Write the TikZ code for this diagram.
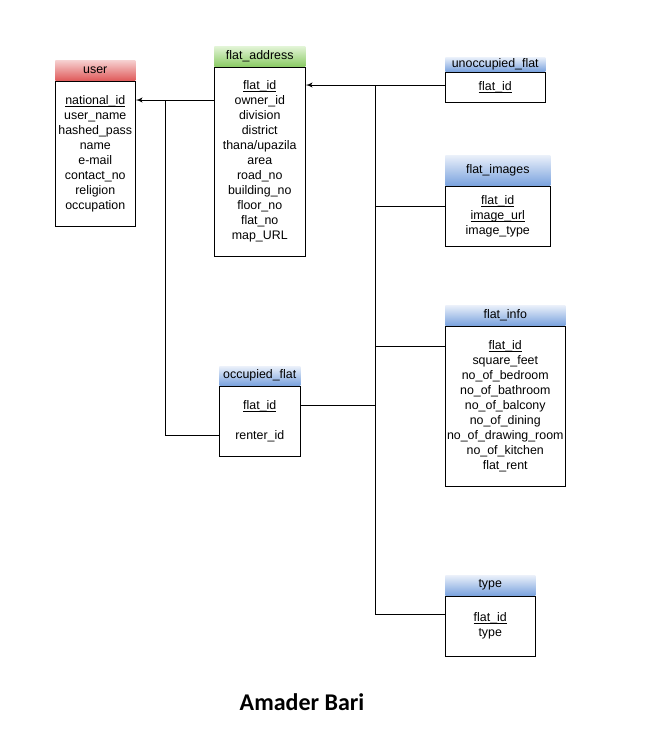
\documentclass[tikz,border=0pt]{standalone}
\usepackage{fontspec}
\setmainfont{Liberation Sans}
\newfontfamily\titlefont{Carlito}
\usetikzlibrary{arrows, positioning}
\definecolor{redtop}{HTML}{F6D0D0}
\definecolor{redbot}{HTML}{E05C5C}
\definecolor{greentop}{HTML}{E2F4D6}
\definecolor{greenbot}{HTML}{8CCB66}
\definecolor{bluetop}{HTML}{EAF0FA}
\definecolor{bluebot}{HTML}{7BA3DE}
\newcommand\pkey[1]{\leavevmode\setbox0\hbox{#1}\rlap{\vrule height -1pt depth 1.6pt width \wd0}\box0}

\begin{document}
\begin{tikzpicture}[x=0.75pt, y=-0.75pt,
        head/.style={rectangle, inner sep=0pt, anchor=north west, font=\fontsize{9.3}{11.25}\selectfont},
        redhead/.style={head, top color=redtop, bottom color=redbot},
        greenhead/.style={head, top color=greentop, bottom color=greenbot},
        bluehead/.style={head, top color=bluetop, bottom color=bluebot},
        body/.style={rectangle, draw, line width=0.75pt, fill=white, inner sep=0pt, align=center, font=\fontsize{9.3}{11.25}\selectfont},
        link/.style={draw, line width=0.75pt}]

        \useasboundingbox (0,0) rectangle (668,744);

        \node [redhead, minimum width=60pt, minimum height=15pt] (uhead) at (55,60) {user};
        \node [body, below=0pt of uhead, minimum width=60pt, minimum height=108.75pt] (ubody) {\pkey{national\_id}\\user\_name\\hashed\_pass\\name\\e-mail\\contact\_no\\religion\\occupation};

        \node [greenhead, minimum width=68.25pt, minimum height=15pt] (fahead) at (214,46) {flat\_address};
        \node [body, below=0pt of fahead, minimum width=68.25pt, minimum height=141.75pt] (fabody) {\pkey{flat\_id}\\owner\_id\\division\\district\\thana/upazila\\area\\road\_no\\building\_no\\floor\_no\\flat\_no\\map\_URL};

        \node [bluehead, minimum width=75pt, minimum height=10.5pt] (uohead) at (445,57) {unoccupied\_flat};
        \node [body, below=0pt of uohead, minimum width=75pt, minimum height=22.5pt] (uobody) {\pkey{flat\_id}};

        \node [bluehead, minimum width=78.75pt, minimum height=22.5pt] (imhead) at (445,155) {flat\_images};
        \node [body, below=0pt of imhead, minimum width=78.75pt, minimum height=45pt] (imbody) {\pkey{flat\_id}\\\pkey{image\_url}\\image\_type};

        \node [bluehead, minimum width=90pt, minimum height=15pt] (fihead) at (445,305) {flat\_info};
        \node [body, below=0pt of fihead, minimum width=90pt, minimum height=120pt] (fibody) {\pkey{flat\_id}\\square\_feet\\no\_of\_bedroom\\no\_of\_bathroom\\no\_of\_balcony\\no\_of\_dining\\no\_of\_drawing\_room\\no\_of\_kitchen\\flat\_rent};

        \node [bluehead, minimum width=60.75pt, minimum height=14.25pt] (ochead) at (219,366) {occupied\_flat};
        \node [body, below=0pt of ochead, minimum width=60.75pt, minimum height=52.5pt] (ocbody) {\pkey{flat\_id}\\[11.25pt]renter\_id};

        \node [bluehead, minimum width=67.5pt, minimum height=15pt] (tyhead) at (445,575) {type};
        \node [body, below=0pt of tyhead, minimum width=67.5pt, minimum height=45pt] (tybody) {\pkey{flat\_id}\\type};

        \node [font=\titlefont\bfseries\fontsize{18}{20}\selectfont] (title) at (302,702) {Amader Bari};

        \coordinate (ujoin) at (165,100);
        \coordinate (ojoin) at (165,435);
        \coordinate (rtop) at (375,85);
        \coordinate (rbot) at (375,614);

        \path [link, -latex'] (fabody.west |- ujoin) -- (ubody.east |- ujoin);
        \path [link] (ujoin) -- (ojoin) -- (ocbody.west |- ojoin);
        \path [link, -latex'] (uobody.west |- rtop) -- (fabody.east |- rtop);
        \path [link] (rtop) -- (rbot) -- (tybody.west |- rbot);
        \path [link] (imbody.west |- 0,206) -- (rtop |- 0,206);
        \path [link] (fibody.west |- 0,346) -- (rtop |- 0,346);
        \path [link] (ocbody.east |- 0,405) -- (rtop |- 0,405);
    \end{tikzpicture}
\end{document}
